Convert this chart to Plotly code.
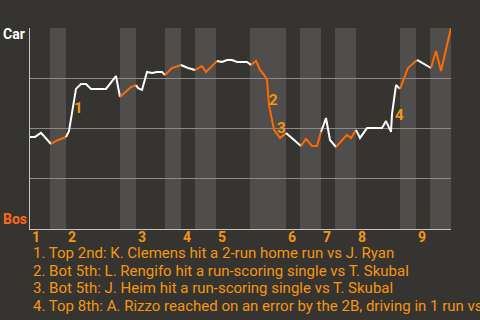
import plotly.graph_objects as go

# ---- data ----
play_x = [0, 5, 11, 15, 21, 28, 36, 39, 46, 51, 56, 61, 76, 86, 90, 96, 101, 106,
          108, 112, 117, 122, 127, 132, 135, 142, 151, 158, 165, 172, 176, 187,
          192, 197, 202, 207, 217, 221, 225, 226, 230, 235, 237, 239, 244, 250,
          256, 271, 276, 282, 287, 291, 296, 300, 306, 312, 317, 321, 326, 330,
          337, 352, 356, 361, 362, 366, 370, 378, 387, 401, 406, 411, 421]
car_wp = [45.8, 45.8, 47.8, 45.8, 42.3, 44.3, 45.8, 48.8, 69.7, 72.1, 72.1, 69.7,
          69.7, 76.1, 65.7, 68.2, 70.6, 71.6, 70.1, 69.2, 78.1, 77.6, 78.1, 78.1,
          76.6, 80.1, 81.6, 80.1, 79.1, 81.1, 78.1, 83.6, 83.1, 84.1, 84.1, 83.1,
          83.1, 81.6, 83.1, 83.6, 79.1, 76.1, 74.1, 61.7, 49.3, 45.3, 47.8, 41.3,
          44.8, 41.3, 41.3, 48.3, 55.2, 44.3, 40.8, 44.3, 46.8, 45.3, 49.3, 45.3,
          50.2, 50.2, 53.7, 48.3, 57.2, 71.6, 69.7, 80.1, 84.1, 80.1, 88.6, 78.6,
          100.0]

inning_starts = [0, 36, 106, 151, 186, 256, 291, 326, 386]
bottom_starts = [20, 90, 135, 165, 220, 270, 305, 370, 400]
game_end = 421
inning_labels = ["1", "2", "3", "4", "5", "6", "7", "8", "9"]

event_labels = ["1", "2", "3", "4"]
event_x = [48, 243, 251, 369]
event_wp = [60.2, 64.2, 50.2, 56.7]
event_notes = [
    "1. Top 2nd: K. Clemens hit a 2-run home run vs J. Ryan",
    "2. Bot 5th: L. Rengifo hit a run-scoring single vs T. Skubal",
    "3. Bot 5th: J. Heim hit a run-scoring single vs T. Skubal",
    "4. Top 8th: A. Rizzo reached on an error by the 2B, driving in 1 run vs J. Ryan",
]
team_top = "Car"
team_bottom = "Bos"

# ---- styles ----
BG = "#363431"
BAND = "#4f4e4c"
ORANGE = "#ff6a00"
AMBER = "#f5960f"
WHITE = "#ffffff"
FONT = "Roboto"

bottom_ends = inning_starts[1:] + [game_end]


def is_bottom(xm):
    return any(b <= xm < e for b, e in zip(bottom_starts, bottom_ends))


fig = go.Figure()

# group consecutive segments by colour
segments = []
cur = None
for i in range(len(play_x) - 1):
    col = ORANGE if is_bottom((play_x[i] + play_x[i + 1]) / 2) else WHITE
    if cur is None or cur["c"] != col:
        cur = {"c": col, "x": [play_x[i]], "y": [car_wp[i]]}
        segments.append(cur)
    cur["x"].append(play_x[i + 1])
    cur["y"].append(car_wp[i + 1])

for s in segments:
    fig.add_trace(go.Scatter(x=s["x"], y=s["y"], mode="lines",
                             line=dict(color=s["c"], width=2),
                             hoverinfo="skip", showlegend=False))

shapes = []
for b, e in zip(bottom_starts, bottom_ends):
    shapes.append(dict(type="rect", xref="x", yref="paper", x0=b, x1=e, y0=0, y1=1,
                       fillcolor=BAND, line=dict(width=0), layer="below"))

annotations = []
for lab, x0 in zip(inning_labels, inning_starts):
    annotations.append(dict(x=x0, y=0, xref="x", yref="paper", text=lab,
                            showarrow=False, xanchor="left", yanchor="middle",
                            xshift=0, yshift=-8,
                            font=dict(family=FONT, size=14, color=AMBER, weight="bold")))
for lab, ex, ey in zip(event_labels, event_x, event_wp):
    annotations.append(dict(x=ex, y=ey, xref="x", yref="y", text=lab, showarrow=False,
                            xanchor="center", yanchor="middle",
                            font=dict(family=FONT, size=15, color=AMBER, weight="bold")))
note_shift = [-24, -42, -59, -77]
for note, ys in zip(event_notes, note_shift):
    annotations.append(dict(x=0, y=0, xref="paper", yref="paper", text=note,
                            showarrow=False, xanchor="left", yanchor="middle",
                            xshift=1, yshift=ys,
                            font=dict(family=FONT, size=15, color=AMBER)))
annotations.append(dict(x=0, y=1, xref="paper", yref="paper", text=team_top,
                        showarrow=False, xanchor="left", yanchor="middle",
                        xshift=-29, yshift=-6,
                        font=dict(family=FONT, size=14, color=WHITE, weight="bold")))
annotations.append(dict(x=0, y=0, xref="paper", yref="paper", text=team_bottom,
                        showarrow=False, xanchor="left", yanchor="middle",
                        xshift=-29, yshift=10,
                        font=dict(family=FONT, size=14, color="#ff6a13", weight="bold")))

fig.update_layout(
    width=480, height=320,
    margin=dict(l=30, r=29, t=28, b=91),
    paper_bgcolor=BG, plot_bgcolor=BG,
    shapes=shapes, annotations=annotations,
    showlegend=False,
    xaxis=dict(range=[0, game_end], showgrid=False, zeroline=False,
               showticklabels=False, ticks="", showline=True,
               linecolor="#c4c4c4", linewidth=1),
    yaxis=dict(range=[0, 100], tickvals=[0, 25, 50, 75, 100], showgrid=True,
               gridcolor="#8a8a8a", gridwidth=1, zeroline=False,
               showticklabels=False, ticks="", showline=True,
               linecolor="#c4c4c4", linewidth=1),
)

fig.write_html("out.html")
